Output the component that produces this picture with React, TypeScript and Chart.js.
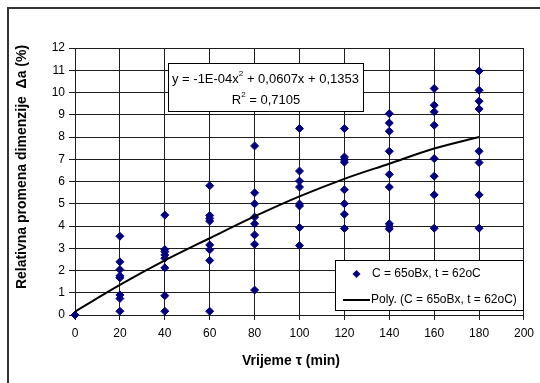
import React, { useEffect, useRef } from 'react';
import { Chart, registerables } from 'chart.js';

Chart.register(...registerables);

// ---- data ----
const times = [0, 20, 40, 60, 80, 100, 120, 140, 160, 180];
const measured: number[][] = [
  [0],
  [3.54, 2.39, 2.04, 1.76, 1.67, 0.9, 0.74, 0.17],
  [4.49, 2.94, 2.84, 2.7, 2.55, 2.12, 0.87, 0.17],
  [5.81, 4.47, 4.34, 4.22, 3.15, 2.93, 2.45, 0.17],
  [7.6, 5.49, 5.0, 4.4, 4.1, 3.6, 3.18, 1.12],
  [8.38, 6.47, 6.02, 5.75, 4.99, 4.9, 3.93, 3.12],
  [8.38, 7.1, 6.98, 6.87, 5.63, 5.0, 4.53, 3.89],
  [9.05, 8.63, 8.26, 7.36, 6.32, 5.75, 4.1, 3.98, 3.87],
  [10.18, 9.43, 9.13, 8.53, 7.03, 6.24, 5.4, 3.9],
  [10.97, 10.1, 9.61, 9.26, 7.36, 6.85, 5.4, 3.9],
];
const trendTimes = [0, 20, 40, 60, 80, 100, 120, 140, 160, 180];
const trendValues = [0.15, 1.35, 2.45, 3.45, 4.43, 5.33, 6.12, 6.8, 7.48, 8.0];

const xMin = 0;
const xMax = 200;
const xStep = 20;
const yMin = 0;
const yMax = 12;
const yStep = 1;

const seriesLabel = 'C = 65oBx, t = 62oC';
const trendLabel = 'Poly. (C = 65oBx, t = 62oC)';
const eqParts = ['y = -1E-04x', '2', ' + 0,0607x + 0,1353'];
const r2Parts = ['R', '2', ' = 0,7105'];
const xTitle = 'Vrijeme \u03c4 (min)';
const yTitle = 'Relativna promena dimenzije  \u0394a (%)';

const FONT = '"Liberation Sans", Arial, sans-serif';
const MARK = '#000080';
const GRID = '#1e1e1e';

function drawDiamond(ctx: CanvasRenderingContext2D, x: number, y: number, r: number) {
  ctx.beginPath();
  ctx.moveTo(x, y - r);
  ctx.lineTo(x + r, y);
  ctx.lineTo(x, y + r);
  ctx.lineTo(x - r, y);
  ctx.closePath();
  ctx.fill();
}

function drawParts(ctx: CanvasRenderingContext2D, parts: string[], x: number, y: number, size: number) {
  let cx = x;
  parts.forEach((p, i) => {
    const sup = i === 1;
    ctx.font = `${sup ? Math.round(size * 0.65) : size}px ${FONT}`;
    ctx.fillText(p, cx, sup ? y - size * 0.38 : y);
    cx += ctx.measureText(p).width;
  });
  return cx - x;
}

function measureParts(ctx: CanvasRenderingContext2D, parts: string[], size: number) {
  let w = 0;
  parts.forEach((p, i) => {
    const sup = i === 1;
    ctx.font = `${sup ? Math.round(size * 0.65) : size}px ${FONT}`;
    w += ctx.measureText(p).width;
  });
  return w;
}

const decorPlugin = {
  id: 'decor',
  afterDraw(chart: any) {
    const ctx: CanvasRenderingContext2D = chart.ctx;
    ctx.save();
    // outer frame
    ctx.strokeStyle = '#333';
    ctx.lineWidth = 2;
    ctx.strokeRect(8, 8, 600, 450);

    // equation box
    ctx.fillStyle = '#fff';
    ctx.fillRect(168, 63, 195, 48);
    ctx.strokeStyle = '#000';
    ctx.lineWidth = 1;
    ctx.strokeRect(168.5, 63.5, 195, 48);
    ctx.fillStyle = '#000';
    ctx.textBaseline = 'middle';
    ctx.textAlign = 'left';
    drawParts(ctx, eqParts, 172, 79, 13);
    const rw = measureParts(ctx, r2Parts, 13);
    drawParts(ctx, r2Parts, 266 - rw / 2, 100, 13);

    // legend
    ctx.fillStyle = '#fff';
    ctx.fillRect(335, 260, 188, 50);
    ctx.strokeStyle = '#000';
    ctx.strokeRect(335.5, 260.5, 188, 50);
    ctx.fillStyle = MARK;
    drawDiamond(ctx, 356.5, 274, 4);
    ctx.strokeStyle = '#000';
    ctx.lineWidth = 2;
    ctx.beginPath();
    ctx.moveTo(343, 300);
    ctx.lineTo(370, 300);
    ctx.stroke();
    ctx.fillStyle = '#000';
    ctx.font = `12px ${FONT}`;
    ctx.fillText(seriesLabel, 372, 274);
    ctx.fillText(trendLabel, 371, 300);

    // axis titles
    ctx.font = `bold 14px ${FONT}`;
    ctx.textAlign = 'center';
    ctx.fillText(xTitle, 291, 361);
    ctx.translate(22, 167);
    ctx.rotate(-Math.PI / 2);
    ctx.fillText(yTitle, 0, 0);
    ctx.restore();
  },
};

export default function App() {
  const ref = useRef<HTMLCanvasElement | null>(null);
  useEffect(() => {
    document.body.style.margin = '0';
    const canvas = ref.current;
    if (!canvas) return;
    const points: { x: number; y: number }[] = [];
    times.forEach((t, i) => measured[i].forEach((v) => points.push({ x: t, y: v })));
    const trend = trendTimes.map((t, i) => ({ x: t, y: trendValues[i] }));

    const chart = new Chart(canvas, {
      type: 'scatter',
      data: {
        datasets: [
          {
            label: trendLabel,
            data: trend,
            showLine: true,
            borderColor: '#000',
            borderWidth: 2,
            pointRadius: 0,
            cubicInterpolationMode: 'monotone',
            order: 0,
          } as any,
          {
            label: seriesLabel,
            data: points,
            backgroundColor: MARK,
            borderColor: MARK,
            pointStyle: 'rectRot',
            pointRadius: 4,
            pointBorderWidth: 1,
            clip: false,
            order: 1,
          } as any,
        ],
      },
      options: {
        responsive: false,
        animation: false,
        devicePixelRatio: 1,
        layout: { padding: { left: 0, top: 48, right: 11, bottom: 0 } },
        plugins: { legend: { display: false }, tooltip: { enabled: false } },
        scales: {
          x: {
            type: 'linear',
            min: xMin,
            max: xMax,
            ticks: { stepSize: xStep, color: '#000', font: { family: FONT, size: 12 }, padding: 6, maxRotation: 0 },
            grid: { color: GRID, lineWidth: 1, tickLength: 5, drawTicks: true },
            border: { color: GRID, width: 1 },
            afterFit: (s: any) => { s.height = 68; },
          },
          y: {
            type: 'linear',
            min: yMin,
            max: yMax,
            ticks: { stepSize: yStep, color: '#000', font: { family: FONT, size: 12 }, padding: 4 },
            grid: { color: GRID, lineWidth: 1, tickLength: 6, drawTicks: true },
            border: { color: GRID, width: 1 },
            afterFit: (s: any) => { s.width = 75; },
          },
        },
      },
      plugins: [decorPlugin],
    } as any);
    return () => chart.destroy();
  }, []);
  return (
    <div style={{ width: 540, height: 383, background: '#fff' }}>
      <canvas ref={ref} width={540} height={383} style={{ display: 'block' }} />
    </div>
  );
}
